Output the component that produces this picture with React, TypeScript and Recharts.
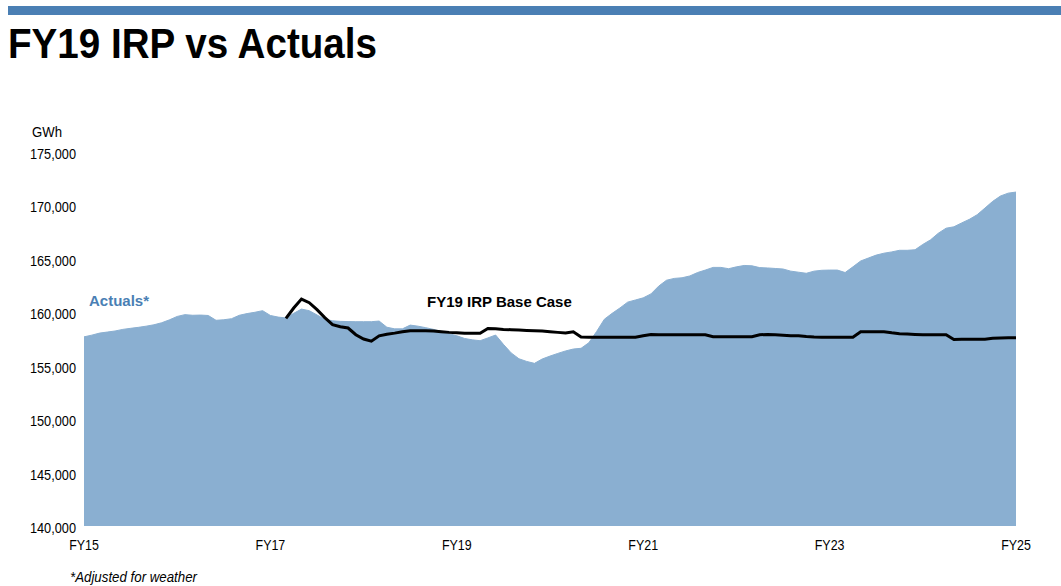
import { Area, ComposedChart, Line, XAxis, YAxis } from "recharts";

// monthly points, FY15 .. FY25 (121 months)
const actuals = [
  157700, 157860, 158050, 158150, 158250, 158400, 158500, 158590, 158700, 158830,
  159020, 159290, 159610, 159780, 159720, 159740, 159700, 159250, 159300, 159400,
  159720, 159880, 160000, 160150, 159700, 159550, 159470, 159900, 160300, 160150,
  159750, 159350, 159200, 159150, 159130, 159120, 159120, 159120, 159180, 158600,
  158450, 158450, 158800, 158700, 158560, 158400, 158200, 158000, 157800, 157550,
  157420, 157340, 157600, 157870, 157000, 156200, 155650, 155400, 155220, 155630,
  155900, 156150, 156380, 156560, 156630, 157150, 158200, 159350, 159900, 160400,
  160950, 161150, 161350, 161720, 162450, 163000, 163170, 163230, 163400, 163720,
  163950, 164200, 164200, 164080, 164250, 164380, 164350, 164180, 164150, 164100,
  164050, 163850, 163750, 163650, 163850, 163930, 163950, 163950, 163720, 164250,
  164800, 165080, 165350, 165530, 165650, 165800, 165800, 165850, 166350, 166780,
  167400, 167870, 168000, 168360, 168700, 169130, 169750, 170380, 170880, 171150,
  171250,
];

// FY19 IRP base case starts in month 26
const irpStart = 26;
const irpBaseCase = [
  159430, 160400, 161240, 160900, 160250, 159500, 158850, 158650, 158530, 157900,
  157500, 157300, 157800, 157950, 158050, 158170, 158280, 158280, 158280, 158240,
  158180, 158120, 158090, 158040, 158030, 158030, 158480, 158450, 158400, 158370,
  158340, 158300, 158270, 158250, 158180, 158120, 158070, 158180, 157680, 157660,
  157660, 157660, 157660, 157660, 157660, 157660, 157810, 157920, 157900, 157900,
  157900, 157900, 157900, 157900, 157900, 157720, 157720, 157720, 157720, 157720,
  157720, 157900, 157920, 157900, 157850, 157800, 157800, 157730, 157680, 157660,
  157660, 157660, 157660, 157660, 158180, 158180, 158180, 158180, 158080, 158000,
  157960, 157930, 157900, 157900, 157900, 157900, 157450, 157470, 157470, 157470,
  157470, 157560, 157600, 157610, 157620,
];

const xTicks = [0, 24, 48, 72, 96, 120];
const xTickLabels = ["FY15", "FY17", "FY19", "FY21", "FY23", "FY25"];
const yTicks = [140000, 145000, 150000, 155000, 160000, 165000, 170000, 175000];

const data = actuals.map((v, i) => ({
  m: i,
  actual: v,
  irp: i >= irpStart ? irpBaseCase[i - irpStart] : null,
}));

const FONT = "'Liberation Sans', Arial, sans-serif";
const BLUE = "#4a7fb4";

function YTick({ x, y, payload }: any) {
  return (
    <g transform={`translate(${x},${y + 7}) scale(0.85,1)`}>
      <text x={0} y={0} textAnchor="end" fontSize={15} fontFamily={FONT} fill="#000">
        {Number(payload.value).toLocaleString("en-US")}
      </text>
    </g>
  );
}

function XTick({ x, payload }: any) {
  const idx = xTicks.indexOf(payload.value);
  return (
    <g transform={`translate(${x},550) scale(0.83,1)`}>
      <text x={0} y={0} textAnchor="middle" fontSize={15} fontFamily={FONT} fill="#000">
        {xTickLabels[idx]}
      </text>
    </g>
  );
}

export default function App() {
  return (
    <div style={{ position: "fixed", left: 0, top: 0, width: 1061, height: 586, background: "#fff" }}>
      <ComposedChart
        width={1061}
        height={586}
        data={data}
        margin={{ top: 152, right: 45, bottom: 40, left: 24 }}
      >
        <XAxis
          type="number"
          dataKey="m"
          domain={[0, 120]}
          ticks={xTicks}
          tick={<XTick />}
          axisLine={false}
          tickLine={false}
          height={20}
        />
        <YAxis
          type="number"
          domain={[140000, 175000]}
          ticks={yTicks}
          tick={<YTick />}
          axisLine={false}
          tickLine={false}
          width={60}
        />
        <Area
          type="linear"
          dataKey="actual"
          fill="#8aafd1"
          fillOpacity={1}
          stroke="#8aafd1"
          strokeWidth={1}
          isAnimationActive={false}
          dot={false}
          activeDot={false}
        />
        <Line
          type="linear"
          dataKey="irp"
          stroke="#000"
          strokeWidth={3}
          dot={false}
          activeDot={false}
          connectNulls={false}
          isAnimationActive={false}
        />
      </ComposedChart>
      <svg
        width={1061}
        height={586}
        style={{ position: "absolute", left: 0, top: 0, pointerEvents: "none" }}
      >
        <rect x={8} y={6} width={1053} height={9} fill={BLUE} />
        <text
          x={8}
          y={58}
          fontSize={42}
          fontWeight="bold"
          fontFamily={FONT}
          textLength={369}
          lengthAdjust="spacingAndGlyphs"
        >
          FY19 IRP vs Actuals
        </text>
        <text x={32} y={137} fontSize={15} fontFamily={FONT} textLength={30} lengthAdjust="spacingAndGlyphs">
          GWh
        </text>
        <text x={89} y={306} fontSize={15} fontWeight="bold" fontFamily={FONT} fill={BLUE}>
          Actuals*
        </text>
        <text x={427} y={306.5} fontSize={15} fontWeight="bold" fontFamily={FONT} fill="#000">
          FY19 IRP Base Case
        </text>
        <text
          x={70}
          y={582}
          fontSize={14}
          fontStyle="italic"
          fontFamily={FONT}
          textLength={127}
          lengthAdjust="spacingAndGlyphs"
        >
          *Adjusted for weather
        </text>
      </svg>
    </div>
  );
}
